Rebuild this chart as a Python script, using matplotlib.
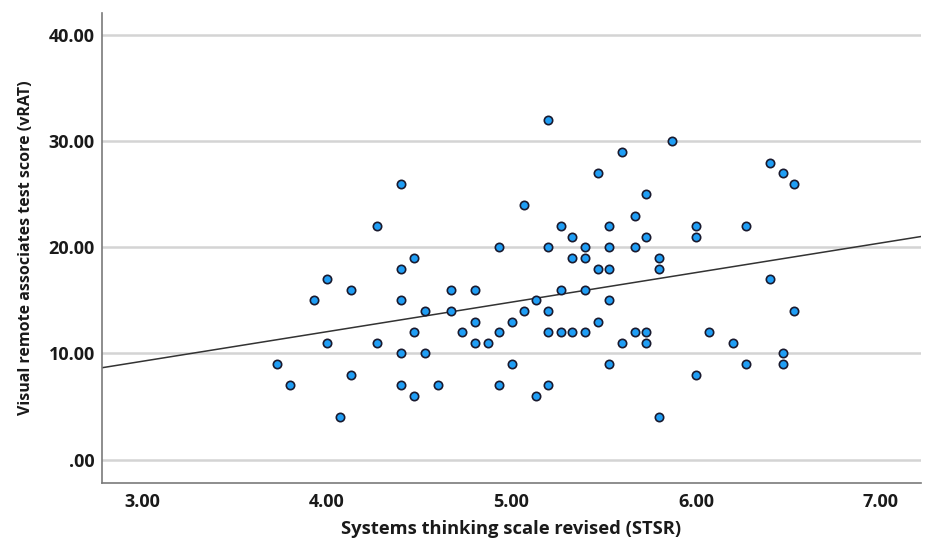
import numpy as np
import matplotlib
matplotlib.use("Agg")
import matplotlib.pyplot as plt

# STSR score (x) and vRAT score (y)
stsr = [3.73, 3.80, 3.93, 4.00, 4.00, 4.07, 4.13, 4.13, 4.27, 4.27,
        4.40, 4.40, 4.40, 4.40, 4.40, 4.47, 4.47, 4.47, 4.53, 4.53,
        5.20, 5.07, 5.27, 5.33, 4.93, 5.20, 5.40, 5.33, 5.40, 4.67,
        4.80, 5.27, 5.40, 4.67, 5.13, 5.07, 5.20, 4.80, 5.00, 4.73,
        4.93, 5.20, 5.27, 5.33, 5.40, 4.80, 4.87, 5.00, 4.60, 4.93,
        5.20, 5.13,
        5.87, 5.60, 5.47, 5.73, 5.67, 5.53, 6.00, 6.27, 5.73, 6.00,
        5.53, 5.67, 5.80, 5.47, 5.53, 5.80, 5.53, 5.47, 5.67, 5.73,
        5.60, 5.73, 6.07, 6.20, 5.53, 6.27, 6.00, 5.80,
        6.40, 6.47, 6.53, 6.40, 6.53, 6.47, 6.47]
vrat = [9, 7, 15, 17, 11, 4, 16, 8, 22, 11,
        26, 18, 15, 10, 7, 19, 12, 6, 14, 10,
        32, 24, 22, 21, 20, 20, 20, 19, 19, 16,
        16, 16, 16, 14, 15, 14, 14, 13, 13, 12,
        12, 12, 12, 12, 12, 11, 11, 9, 7, 7,
        7, 6,
        30, 29, 27, 25, 23, 22, 22, 22, 21, 21,
        20, 20, 19, 18, 18, 18, 15, 13, 12, 12,
        11, 11, 12, 11, 9, 9, 8, 4,
        28, 27, 26, 17, 14, 10, 9]

x_ticks = [3, 4, 5, 6, 7]
y_ticks = [0, 10, 20, 30, 40]
x_lim = (2.78, 7.22)
y_lim = (-2.2, 42.1)

plt.rcParams["font.family"] = ["Open Sans", "DejaVu Sans"]

fig = plt.figure(figsize=(9.25, 5.45), dpi=100)
ax = fig.add_axes([0.110, 0.114, 0.886, 0.862])

for yt in y_ticks:
    ax.axhline(yt, color="#d4d4d4", lw=1.8, zorder=1)

# fit line
slope, icpt = np.polyfit(stsr, vrat, 1)
xx = np.array(x_lim)
ax.plot(xx, icpt + slope * xx, color="#333333", lw=1.1, zorder=2)

ax.scatter(stsr, vrat, s=36, c="#1f9ef5", edgecolors="#1a1a2e",
           linewidths=1.2, zorder=3)

ax.set_xlim(*x_lim)
ax.set_ylim(*y_lim)
ax.set_xticks(x_ticks)
ax.set_yticks(y_ticks)
ax.set_xticklabels([f"{t:.2f}" for t in x_ticks])
ax.set_yticklabels([".00" if t == 0 else f"{t:.2f}" for t in y_ticks])
ax.tick_params(length=0, labelsize=13, colors="#1a1a1a")
ax.tick_params(axis="x", pad=7)
ax.tick_params(axis="y", pad=5)
for lbl in ax.get_xticklabels() + ax.get_yticklabels():
    lbl.set_fontweight("bold")

for s in ["top", "right"]:
    ax.spines[s].set_visible(False)
for s in ["left", "bottom"]:
    ax.spines[s].set_color("#7a7a7a")
    ax.spines[s].set_linewidth(1.2)

ax.set_xlabel("Systems thinking scale revised (STSR)", fontsize=13.2,
              fontweight="bold", color="#1a1a1a")
ax.set_ylabel("Visual remote associates test score (vRAT)", fontsize=11.5,
              fontweight="bold", color="#1a1a1a")
ax.xaxis.set_label_coords(0.5, -0.078)
ax.yaxis.set_label_coords(-0.083, 0.5)

fig.savefig("out.png", dpi=100)
